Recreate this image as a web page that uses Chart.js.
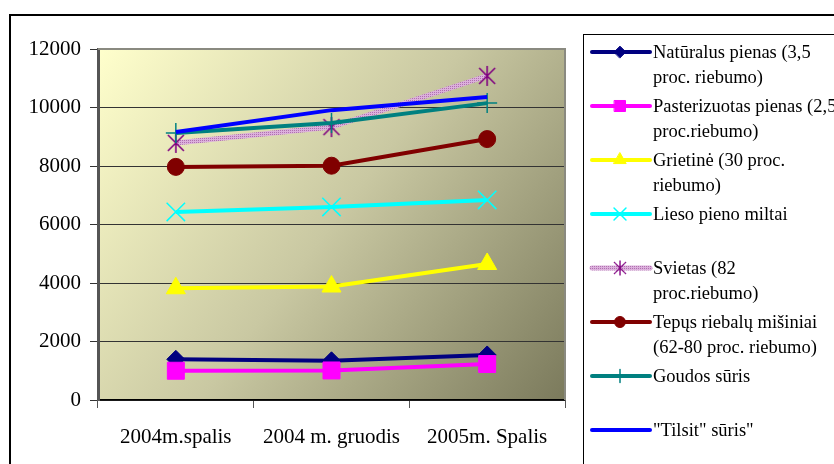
<!DOCTYPE html>
<html>
<head>
<meta charset="utf-8">
<script src="https://cdn.jsdelivr.net/npm/chart.js@4/dist/chart.umd.min.js"></script>
<style>
  html, body { margin: 0; padding: 0; background: #fff; }
  #wrap { width: 834px; height: 464px; }
</style>
</head>
<body>
<div id="wrap"><canvas id="chart" width="834" height="464"></canvas></div>
<script>
// data
let months = ["2004m.spalis", "2004 m. gruodis", "2005m. Spalis"]
let naturalus = [1390, 1340, 1540]
let pasterizuotas = [1000, 1010, 1230]
let grietine = [3820, 3880, 4650]
let lieso = [6430, 6600, 6840]
let svietas = [8790, 9330, 11080]
let tepus = [7970, 8010, 8920]
let goudos = [9130, 9470, 10150]
let tilsit = [9160, 9910, 10360]
let yTicks = [0, 2000, 4000, 6000, 8000, 10000, 12000]

let names = [
  ["Natūralus pienas (3,5", "proc. riebumo)"],
  ["Pasterizuotas pienas (2,5", "proc.riebumo)"],
  ["Grietinė (30 proc.", "riebumo)"],
  ["Lieso pieno miltai"],
  ["Svietas (82", "proc.riebumo)"],
  ["Tepųs riebalų mišiniai", "(62-80 proc. riebumo)"],
  ["Goudos sūris"],
  ["\"Tilsit\" sūris\""]
]

const serif = "'Liberation Serif', 'DejaVu Serif', serif"

// asterisk marker for Svietas
function makeStar(size, color){
  let c = document.createElement("canvas")
  c.width = size; c.height = size
  let g = c.getContext("2d")
  g.strokeStyle = color
  g.lineWidth = 1.6
  let m = size / 2, r = size / 2 - 2
  g.beginPath()
  g.moveTo(m, m - r); g.lineTo(m, m + r)
  g.moveTo(m - r * 0.8, m - r * 0.8); g.lineTo(m + r * 0.8, m + r * 0.8)
  g.moveTo(m + r * 0.8, m - r * 0.8); g.lineTo(m - r * 0.8, m + r * 0.8)
  g.stroke()
  return c
}
let starBig = makeStar(24, "#800080")

// dotted lavender pattern for Svietas line
function makePattern(){
  let c = document.createElement("canvas")
  c.width = 4; c.height = 4
  let g = c.getContext("2d")
  g.fillStyle = "#dcb0dc"
  g.fillRect(0, 0, 4, 4)
  g.fillStyle = "#b070b0"
  g.fillRect(0, 0, 1, 1); g.fillRect(2, 2, 1, 1)
  g.fillRect(2, 0, 1, 1); g.fillRect(0, 2, 1, 1)
  return document.createElement("canvas").getContext("2d").createPattern(c, "repeat")
}
let svPattern = makePattern()

let sets = [
  { data: naturalus, color: "#000080", style: "rectRot", r: 9, bw: 1, w: 4 },
  { data: pasterizuotas, color: "#ff00ff", style: "rect", r: 12, bw: 1, w: 4 },
  { data: grietine, color: "#ffff00", style: "triangle", r: 11, bw: 1, w: 4 },
  { data: lieso, color: "#00ffff", style: "crossRot", r: 13, bw: 1.5, w: 4 },
  { data: svietas, color: svPattern, mark: "#800080", style: starBig, r: 12, bw: 1, w: 5 },
  { data: tepus, color: "#800000", style: "circle", r: 8.5, bw: 1, w: 4 },
  { data: goudos, color: "#008080", style: "cross", r: 10, bw: 1.5, w: 4 },
  { data: tilsit, color: "#0000ff", style: false, r: 0, bw: 1, w: 4 }
]

let datasets = sets.map((s, i) => ({
  label: names[i].join(" "),
  data: s.data,
  borderColor: s.color,
  borderWidth: s.w,
  backgroundColor: s.color,
  pointStyle: s.style,
  pointRadius: s.r,
  pointHoverRadius: s.r,
  pointBorderWidth: s.bw,
  pointBackgroundColor: s.mark || s.color,
  pointBorderColor: s.mark || s.color,
  tension: 0,
  fill: false,
  order: sets.length - i
}))

let framePlugin = {
  id: "frame",
  beforeDraw(chart){
    let ctx = chart.ctx
    let a = chart.chartArea
    ctx.save()
    let grad = ctx.createLinearGradient(a.left, a.top, a.right, a.bottom)
    grad.addColorStop(0, "#ffffcc")
    grad.addColorStop(0.5, "#c9c8a2")
    grad.addColorStop(1, "#7b7a5c")
    ctx.fillStyle = grad
    ctx.fillRect(a.left, a.top, a.right - a.left, a.bottom - a.top)
    ctx.restore()
  },
  beforeDatasetsDraw(chart){
    let ctx = chart.ctx
    let a = chart.chartArea
    ctx.save()
    ctx.strokeStyle = "#8a8a80"
    ctx.lineWidth = 2
    ctx.beginPath()
    ctx.moveTo(a.left, a.top)
    ctx.lineTo(a.right, a.top)
    ctx.lineTo(a.right, a.bottom)
    ctx.stroke()
    ctx.restore()
  },
  afterDraw(chart){
    let ctx = chart.ctx
    ctx.save()
    // outer chart frame
    ctx.strokeStyle = "#000"
    ctx.lineWidth = 2
    ctx.strokeRect(10, 15, 900, 500)
    // legend box
    ctx.lineWidth = 1
    ctx.strokeRect(583.5, 34.5, 400, 500)
    ctx.font = "18.5px " + serif
    ctx.textBaseline = "middle"
    ctx.fillStyle = "#000"
    sets.forEach((s, i) => {
      let y = 52 + i * 54
      ctx.strokeStyle = s.color
      ctx.lineWidth = s.w
      ctx.lineCap = "round"
      ctx.beginPath()
      ctx.moveTo(592, y)
      ctx.lineTo(650, y)
      ctx.stroke()
      if (s.style) {
        ctx.fillStyle = s.mark || s.color
        ctx.strokeStyle = s.mark || s.color
        if (typeof s.style === "string") {
          ctx.lineWidth = s.bw
          Chart.helpers.drawPoint(ctx, { pointStyle: s.style, radius: s.r * 0.65, borderWidth: s.bw, rotation: 0 }, 620, y)
        } else {
          ctx.drawImage(s.style, 611, y - 9, 18, 18)
        }
      }
      ctx.fillStyle = "#000"
      names[i].forEach((t, k) => ctx.fillText(t, 653, y + 1 + k * 25))
    })
    ctx.restore()
  }
}

new Chart(document.getElementById("chart"), {
  type: "line",
  data: { labels: months, datasets: datasets },
  options: {
    responsive: false,
    animation: false,
    layout: { padding: { top: 49, right: 269, left: 0, bottom: 0 } },
    plugins: { legend: { display: false }, tooltip: { enabled: false } },
    scales: {
      x: {
        offset: true,
        grid: { offset: true, drawOnChartArea: false, drawTicks: true, tickLength: 8, color: "#555" },
        border: { color: "#000", width: 1.5 },
        ticks: { color: "#000", padding: 17, font: { family: serif, size: 21 }, maxRotation: 0 },
        afterFit(scale){ scale.height = 64 }
      },
      y: {
        min: 0,
        max: 12000,
        afterBuildTicks(scale){ scale.ticks = yTicks.map(v => ({ value: v })) },
        grid: { color: "#333", lineWidth: 1, tickLength: 8 },
        border: { color: "#555", width: 3 },
        ticks: { color: "#000", padding: 9, font: { family: serif, size: 21 }, callback: v => String(v) },
        afterFit(scale){ scale.width = 98 }
      }
    }
  },
  plugins: [framePlugin]
})
</script>
</body>
</html>
